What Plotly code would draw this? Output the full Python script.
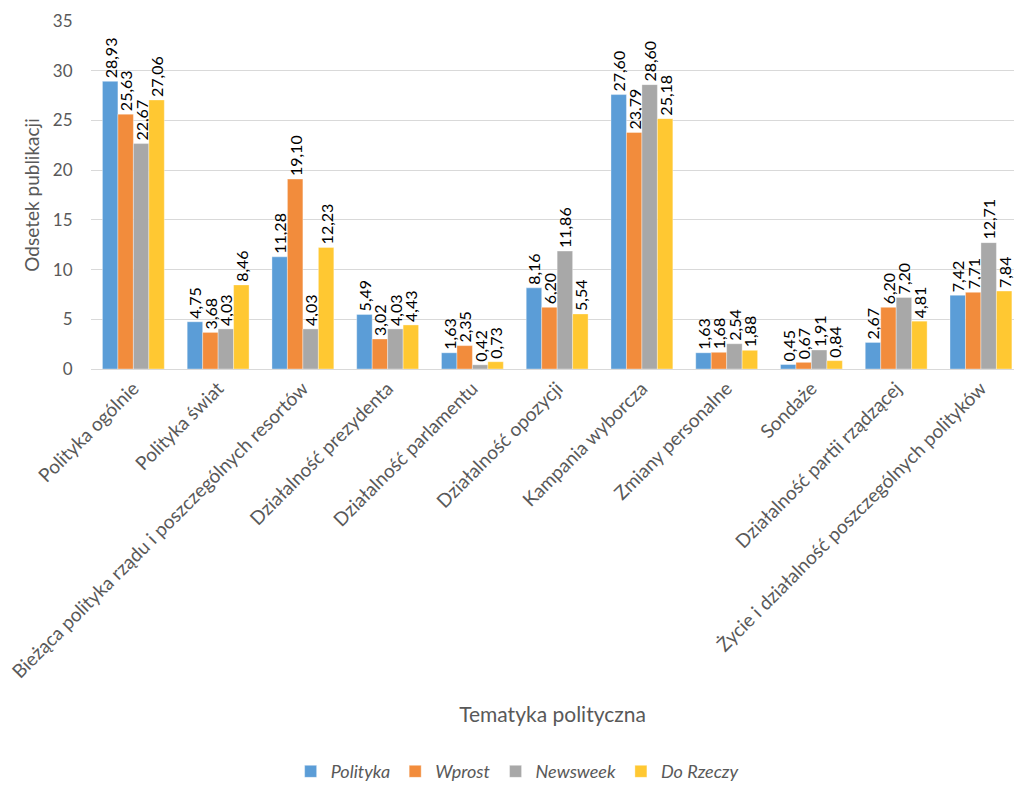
import plotly.graph_objects as go

categories = [
    "Polityka ogólnie",
    "Polityka świat",
    "Bieżąca polityka rządu i poszczególnych resortów",
    "Działalność prezydenta",
    "Działalność parlamentu",
    "Działalność opozycji",
    "Kampania wyborcza",
    "Zmiany personalne",
    "Sondaże",
    "Działalność partii rządzącej",
    "Życie i działalność poszczególnych polityków",
]

polityka = [28.93, 4.75, 11.28, 5.49, 1.63, 8.16, 27.60, 1.63, 0.45, 2.67, 7.42]
wprost = [25.63, 3.68, 19.10, 3.02, 2.35, 6.20, 23.79, 1.68, 0.67, 6.20, 7.71]
newsweek = [22.67, 4.03, 4.03, 4.03, 0.42, 11.86, 28.60, 2.54, 1.91, 7.20, 12.71]
do_rzeczy = [27.06, 8.46, 12.23, 4.43, 0.73, 5.54, 25.18, 1.88, 0.84, 4.81, 7.84]

series = [
    ("Polityka", polityka, "#5B9DD7"),
    ("Wprost", wprost, "#F28C3C"),
    ("Newsweek", newsweek, "#A8A8A8"),
    ("Do Rzeczy", do_rzeczy, "#FFC832"),
]

FONT = "Lato, Carlito, Calibri, sans-serif"

fig = go.Figure()
for name, vals, color in series:
    fig.add_trace(go.Bar(
        name=name,
        x=categories,
        y=vals,
        marker=dict(color=color, line=dict(width=0.6, color="rgba(255,255,255,0.6)")),
        texttemplate="%{y:.2f}",
        textposition="outside",
        textangle=-90,
        constraintext="none",
        cliponaxis=False,
        textfont=dict(family=FONT, size=16, color="#000000"),
    ))

fig.update_layout(
    width=1014,
    height=785,
    separators=", ",
    barmode="group",
    bargap=0.27,
    bargroupgap=0,
    plot_bgcolor="white",
    paper_bgcolor="white",
    margin=dict(l=91, r=0, t=21, b=416),
    font=dict(family=FONT, color="#595959"),
    showlegend=True,
    legend=dict(
        orientation="h",
        xref="container", yref="container",
        x=0.51, xanchor="center",
        y=0.017, yanchor="middle",
        font=dict(family=FONT, size=18, color="#595959", style="italic"),
        itemwidth=30,
        traceorder="normal",
    ),
    xaxis=dict(
        range=[-0.5, 10.39],
        tickangle=-45,
        tickfont=dict(family=FONT, size=19, color="#595959"),
        showgrid=False,
        showline=True,
        linecolor="#D9D9D9",
        linewidth=1,
        ticks="",
        title=dict(text="Tematyka polityczna", font=dict(family=FONT, size=21, color="#595959"), standoff=25),
    ),
    yaxis=dict(
        range=[0, 35],
        dtick=5,
        showgrid=True,
        gridcolor="#D9D9D9",
        gridwidth=1,
        zeroline=False,
        showline=False,
        ticks="outside",
        ticklen=14,
        tickcolor="white",
        tickfont=dict(family=FONT, size=17, color="#595959"),
        title=dict(text="Odsetek publikacji", font=dict(family=FONT, size=19, color="#595959"), standoff=8),
    ),
)

fig.write_html("out.html")
